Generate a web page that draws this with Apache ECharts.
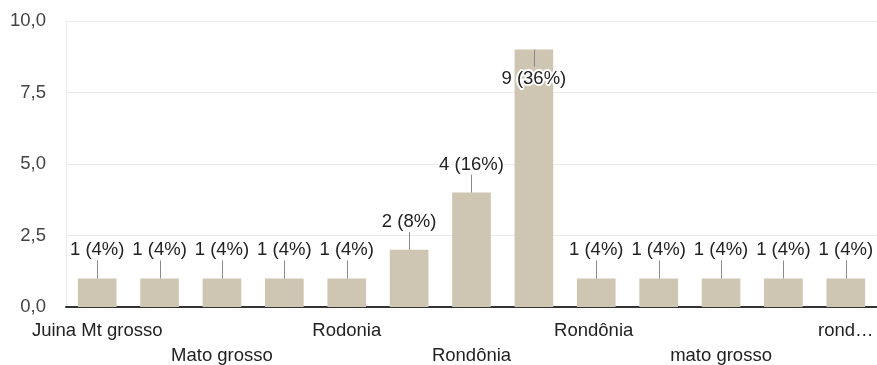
<!DOCTYPE html>
<html>
<head>
<meta charset="utf-8">
<script src="https://cdn.jsdelivr.net/npm/echarts@6/dist/echarts.min.js"></script>
<style>
  html, body { margin: 0; padding: 0; background: #fff; }
  #chart { width: 877px; height: 365px; }
</style>
</head>
<body>
<div id="chart"></div>
<script>
// Answers (categories) and how many responses each one got
const categories = [
  'Juina Mt grosso', 'MT', 'Mato grosso', 'Porto Velho', 'Rodonia', 'Rondonia',
  'Rondônia', 'Rondônia - RO', 'Rondônia ', 'cacoal', 'mato grosso', 'ro', 'rond…'
];
const counts = [1, 1, 1, 1, 1, 2, 4, 9, 1, 1, 1, 1, 1];
const yTicks = { min: 0, max: 10, interval: 2.5 };

const total = counts.reduce((a, b) => a + b, 0);
const FAMILY = '"Liberation Sans", Arial, sans-serif';
const SIZE = 18.5;
const FONT = SIZE + 'px ' + FAMILY;

const chart = echarts.init(document.getElementById('chart'));

// Value labels with a short leader line; placed above the bar, or just inside
// its top when there is no room above.
function renderValueLabel(params, api) {
  const idx = api.value(0);
  const v = api.value(1);
  const top = api.coord([idx, v]);
  const x = Math.round(top[0]) + 0.5;
  const y = top[1];
  const gridTop = params.coordSys.y;
  const above = (y - 40) >= gridTop;
  const pct = Math.round(v / total * 100);
  const text = v + ' (' + pct + '%)';
  const labelY = above ? y - 28 : y + 29;
  const lineY1 = above ? y - 18 : y;
  const lineY2 = above ? y : y + 17;
  return {
    type: 'group',
    children: [
      {
        type: 'line',
        shape: { x1: x, y1: lineY1, x2: x, y2: lineY2 },
        style: { stroke: '#8a8a8a', lineWidth: 1 }
      },
      {
        type: 'text',
        x: top[0],
        y: labelY,
        style: {
          text: text,
          font: FONT,
          fill: '#222',
          align: 'center',
          verticalAlign: 'middle',
          stroke: '#fff',
          lineWidth: 4
        }
      }
    ]
  };
}

chart.setOption({
  animation: false,
  grid: { left: 66, right: 0, top: 21, bottom: 58, outerBoundsMode: 'none', containLabel: false },
  xAxis: {
    type: 'category',
    data: categories,
    axisLine: { lineStyle: { color: '#333', width: 2 } },
    axisTick: { show: false },
    axisLabel: {
      interval: 1,
      margin: 11,
      color: '#222',
      fontSize: SIZE,
      fontFamily: FAMILY,
      lineHeight: 25,
      formatter: (val, idx) => (idx % 4 === 2 ? '\n' : '') + val
    }
  },
  yAxis: {
    type: 'value',
    min: yTicks.min,
    max: yTicks.max,
    interval: yTicks.interval,
    axisLine: { show: true, lineStyle: { color: '#ebebeb', width: 1 } },
    axisTick: { show: false },
    splitLine: { lineStyle: { color: '#ebebeb', width: 1 } },
    axisLabel: {
      margin: 20,
      color: '#444',
      fontSize: SIZE,
      fontFamily: FAMILY,
      formatter: v => v.toFixed(1).replace('.', ',')
    }
  },
  series: [
    {
      type: 'bar',
      data: counts,
      barWidth: '62%',
      itemStyle: { color: '#cfc5b3' }
    },
    {
      type: 'custom',
      data: counts.map((v, i) => [i, v]),
      renderItem: renderValueLabel,
      clip: false,
      z: 5
    }
  ]
});
</script>
</body>
</html>
